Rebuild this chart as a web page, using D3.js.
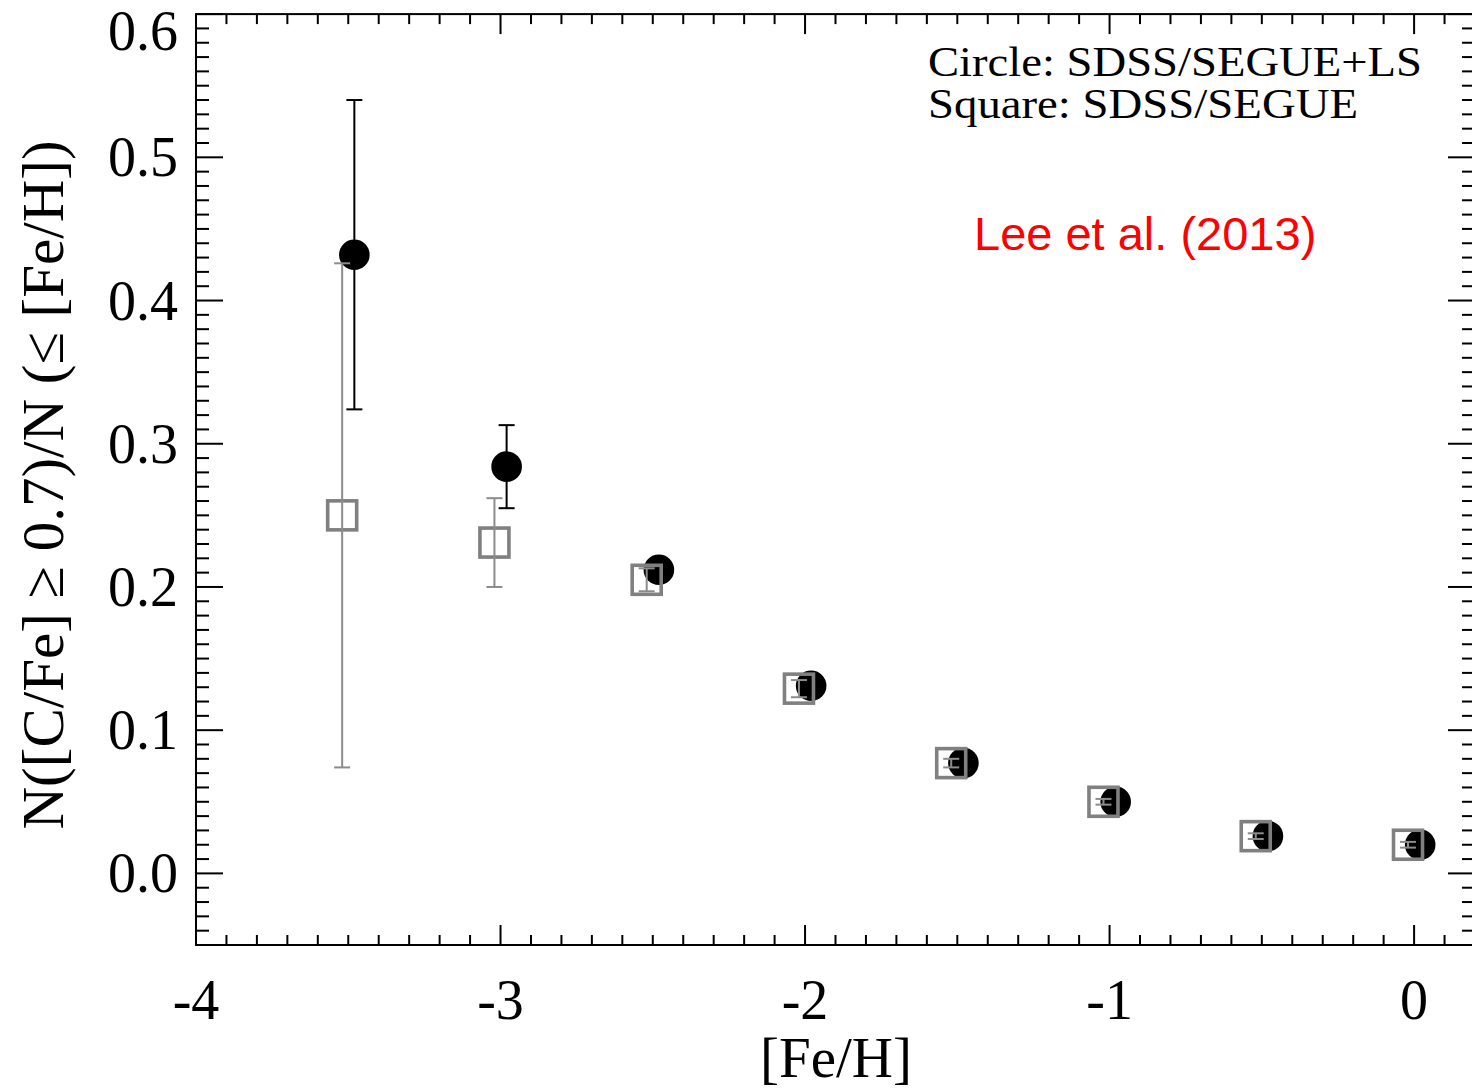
<!DOCTYPE html>
<html>
<head>
<meta charset="utf-8">
<script src="https://cdn.jsdelivr.net/npm/d3@7"></script>
<style>
  body { margin: 0; background: #fff; }
  svg text.serif { font-family: "Liberation Serif", "Times New Roman", serif; fill: #000; }
  svg text.sans { font-family: "Liberation Sans", Arial, sans-serif; fill: #ff0000; }
</style>
</head>
<body>
<svg id="chart" width="1472" height="1092"></svg>
<script>
// Carbon-enhanced fraction vs. metallicity bin
const feHBins   = [-3.5, -3.0, -2.5, -2.0, -1.5, -1.0, -0.5, 0.0];
const fracCircle = [0.432, 0.284, 0.212, 0.131, 0.077, 0.050, 0.026, 0.020]; // SDSS/SEGUE+LS
const errCircle  = [0.108, 0.029, 0.007, 0.005, 0.004, 0.003, 0.002, 0.002];
const fracSquare = [0.250, 0.231, 0.205, 0.129, 0.077, 0.050, 0.026, 0.020]; // SDSS/SEGUE
const errSquare  = [0.176, 0.031, 0.008, 0.006, 0.003, 0.002, 0.002, 0.002];

const xTickValues = [-4, -3, -2, -1, 0];
const xTickLabels = ["-4", "-3", "-2", "-1", "0"];
const yTickValues = [0.0, 0.1, 0.2, 0.3, 0.4, 0.5, 0.6];
const yTickLabels = ["0.0", "0.1", "0.2", "0.3", "0.4", "0.5", "0.6"];

const legendLines = ["Circle: SDSS/SEGUE+LS", "Square: SDSS/SEGUE"];
const legendWidths = [494, 430];
const noteText = "Lee et al. (2013)";

const svg = d3.select("#chart");

const x = d3.scaleLinear().domain([-4, 0.2]).range([196, 1475]);
const y = d3.scaleLinear().domain([-0.05, 0.6]).range([945, 14.1]);

const [x0, x1] = x.range();
const [y0, y1] = y.range();

// small horizontal offsets so the two samples do not sit on top of each other
const circleShift = 0.02, squareShift = -0.02;

// ---- ticks (all pointing inward) ----
const xMinor = d3.range(-40, 3).map(d => d / 10).filter(v => !xTickValues.some(t => Math.abs(t - v) < 1e-9));
const yMinor = d3.range(-5, 61).map(d => d / 100).filter(v => !yTickValues.some(t => Math.abs(t - v) < 1e-9));

const tickG = svg.append("g").attr("stroke", "#000").attr("stroke-width", 2);

function vTicks(vals, len, atY, dir) {
  tickG.selectAll(null).data(vals).join("line")
    .attr("x1", d => x(d)).attr("x2", d => x(d))
    .attr("y1", atY).attr("y2", atY + dir * len);
}
function hTicks(vals, len, atX, dir) {
  tickG.selectAll(null).data(vals).join("line")
    .attr("y1", d => y(d)).attr("y2", d => y(d))
    .attr("x1", atX).attr("x2", atX + dir * len);
}
vTicks(xTickValues, 20, y0, -1);
vTicks(xMinor, 10, y0, -1);
vTicks(xTickValues, 20, y1, 1);
vTicks(xMinor, 10, y1, 1);
hTicks(yTickValues, 27, x0, 1);
hTicks(yMinor, 13, x0, 1);
hTicks(yTickValues, 27, x1, -1);
hTicks(yMinor, 13, x1, -1);

// frame
svg.append("rect")
  .attr("x", x0).attr("y", y1)
  .attr("width", x1 - x0).attr("height", y0 - y1)
  .attr("fill", "none").attr("stroke", "#000").attr("stroke-width", 2);

// ---- tick labels ----
svg.append("g").selectAll("text").data(xTickValues).join("text")
  .attr("class", "serif")
  .attr("x", d => x(d)).attr("y", 1019)
  .attr("text-anchor", "middle").attr("font-size", 56)
  .text((d, i) => xTickLabels[i]);

svg.append("g").selectAll("text").data(yTickValues).join("text")
  .attr("class", "serif")
  .attr("x", 178).attr("y", d => Math.max(y(d), 31) + 19)
  .attr("text-anchor", "end").attr("font-size", 56)
  .text((d, i) => yTickLabels[i]);

// ---- axis titles ----
svg.append("text")
  .attr("class", "serif")
  .attr("x", 836).attr("y", 1077)
  .attr("text-anchor", "middle").attr("font-size", 57)
  .text("[Fe/H]");

svg.append("text")
  .attr("class", "serif")
  .attr("transform", "translate(63,485) rotate(-90)")
  .attr("text-anchor", "middle").attr("font-size", 59)
  .text("N([C/Fe] \u2265 0.7)/N (\u2264 [Fe/H])");

// ---- data ----
const circles = feHBins.map((f, i) => ({ fx: f + circleShift, v: fracCircle[i], e: errCircle[i] }));
const squares = feHBins.map((f, i) => ({ fx: f + squareShift, v: fracSquare[i], e: errSquare[i] }));

function errorBars(g, data, color) {
  const cap = 8;
  g.selectAll(null).data(data).join("line")
    .attr("x1", d => x(d.fx)).attr("x2", d => x(d.fx))
    .attr("y1", d => y(d.v - d.e)).attr("y2", d => y(d.v + d.e))
    .attr("stroke", color).attr("stroke-width", 2);
  ["-", "+"].forEach(s => {
    g.selectAll(null).data(data).join("line")
      .attr("x1", d => x(d.fx) - cap).attr("x2", d => x(d.fx) + cap)
      .attr("y1", d => y(s === "+" ? d.v + d.e : d.v - d.e))
      .attr("y2", d => y(s === "+" ? d.v + d.e : d.v - d.e))
      .attr("stroke", color).attr("stroke-width", 2);
  });
}

const gC = svg.append("g");
errorBars(gC, circles, "#000");
gC.selectAll("circle").data(circles).join("circle")
  .attr("cx", d => x(d.fx)).attr("cy", d => y(d.v))
  .attr("r", 15.3).attr("fill", "#000");

const gS = svg.append("g");
const side = 29;
gS.selectAll("rect").data(squares).join("rect")
  .attr("x", d => x(d.fx) - side / 2).attr("y", d => y(d.v) - side / 2)
  .attr("width", side).attr("height", side)
  .attr("fill", "none").attr("stroke", "#808080").attr("stroke-width", 3.6);
errorBars(gS, squares, "#8c8c8c");

// ---- legend and note ----
svg.append("g").selectAll("text").data(legendLines).join("text")
  .attr("class", "serif")
  .attr("x", 928).attr("y", (d, i) => 76 + i * 42)
  .attr("font-size", 43)
  .attr("textLength", (d, i) => legendWidths[i])
  .attr("lengthAdjust", "spacingAndGlyphs")
  .text(d => d);

svg.append("text")
  .attr("class", "sans")
  .attr("x", 974).attr("y", 250)
  .attr("font-size", 47)
  .text(noteText);
</script>
</body>
</html>
